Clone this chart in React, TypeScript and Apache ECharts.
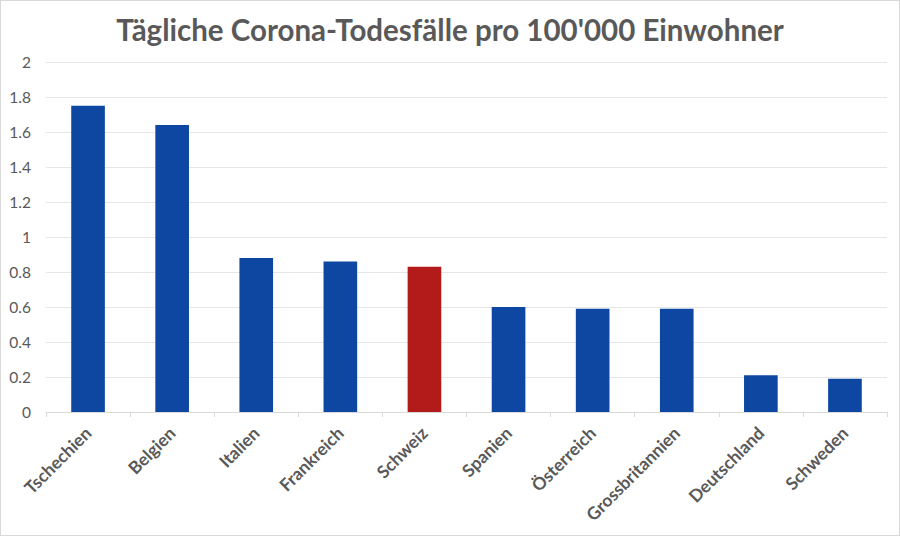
import React, { useEffect, useRef } from "react";
import * as echarts from "echarts";

const titleText = "Tägliche Corona-Todesfälle pro 100'000 Einwohner";
const countries = [
  "Tschechien",
  "Belgien",
  "Italien",
  "Frankreich",
  "Schweiz",
  "Spanien",
  "Österreich",
  "Grossbritannien",
  "Deutschland",
  "Schweden",
];
const deathsPer100k = [1.75, 1.64, 0.88, 0.86, 0.83, 0.6, 0.59, 0.59, 0.21, 0.19];
const highlightCountry = "Schweiz";

const BLUE = "#0D47A1";
const RED = "#B31B1B";
const TEXT = "#595959";

export default function App() {
  const ref = useRef<HTMLDivElement>(null);
  useEffect(() => {
    if (!ref.current) return;
    const chart = echarts.init(ref.current, null, { renderer: "svg" });
    chart.setOption({
      animation: false,
      backgroundColor: "#ffffff",
      title: {
        text: titleText,
        left: "center",
        top: 8,
        textStyle: {
          fontFamily: "Lato",
          fontWeight: "bold",
          fontSize: 29.5,
          color: TEXT,
        },
      },
      grid: { left: 45, right: 12, top: 61, bottom: 123 },
      xAxis: {
        type: "category",
        data: countries,
        axisLine: { lineStyle: { color: "#D9D9D9" } },
        axisTick: { show: true, alignWithLabel: false, lineStyle: { color: "#D9D9D9" }, length: 5 },
        axisLabel: {
          rotate: 45,
          interval: 0,
          margin: 18,
          fontFamily: "Lato",
          fontWeight: "bold",
          fontSize: 17.5,
          color: TEXT,
        },
      },
      yAxis: {
        type: "value",
        min: 0,
        max: 2,
        interval: 0.2,
        axisLine: { show: false },
        axisTick: { show: false },
        splitLine: { lineStyle: { color: "#E6E6E6" } },
        axisLabel: {
          margin: 15,
          fontFamily: "Lato",
          fontSize: 15.5,
          color: TEXT,
          formatter: (v: number) => String(Math.round(v * 10) / 10),
        },
      },
      series: [
        {
          type: "bar",
          barWidth: "40%",
          data: deathsPer100k.map((v, i) => ({
            value: v,
            itemStyle: { color: countries[i] === highlightCountry ? RED : BLUE },
          })),
        },
      ],
    });
    return () => chart.dispose();
  }, []);
  return (
    <div
      style={{
        position: "fixed",
        left: 0,
        top: 0,
        width: 900,
        height: 536,
        boxSizing: "border-box",
        border: "1px solid #D9D9D9",
        background: "#fff",
      }}
    >
      <div ref={ref} style={{ width: 898, height: 534 }} />
    </div>
  );
}
